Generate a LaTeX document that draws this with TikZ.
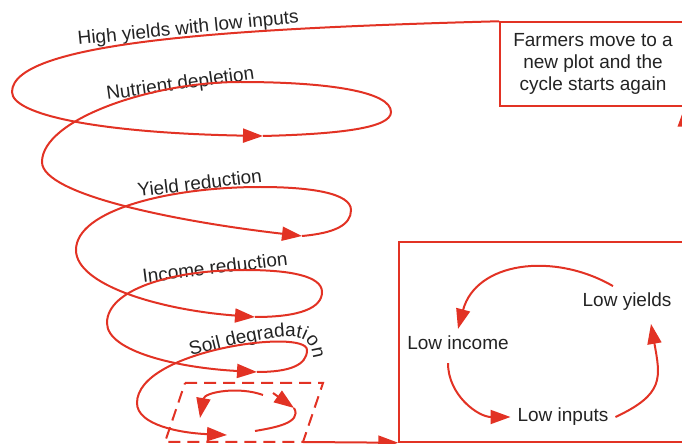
\documentclass[tikz,border=0pt]{standalone}
\usepackage{fontspec}
\setmainfont{Liberation Sans}
\usetikzlibrary{arrows.meta, decorations.text}
\definecolor{spiralred}{RGB}{226,50,36}
\definecolor{labelgray}{RGB}{35,35,35}
\newcommand{\labelsize}{\fontsize{9.5}{11}\selectfont}

\begin{document}
\begin{tikzpicture}
  [
    x=0.5pt, y=-0.5pt,
    Spiral/.style={draw=spiralred, line width=1pt},
    Tip/.style={-{Triangle[length=10pt, width=7pt]}},
    Frame/.style={draw=spiralred, line width=0.75pt},
    Label/.style={text=labelgray, font=\labelsize},
    Stage/.style={Label, anchor=base west, inner sep=0pt}
  ]
  \useasboundingbox (0,0) rectangle (682,444);
  \clip (0,0) rectangle (682,444);

  % Boxes
  \node[Frame, Label, align=center, minimum width=93pt, minimum height=42pt] (farmers) at (593,64) {Farmers move to a\\new plot and the\\cycle starts again};
  \node[Frame, minimum width=143.5pt, minimum height=100pt] (cyclebox) at (542.5,342) {};

  % Poverty cycle
  \node[Label] (yields) at (627,302) {Low yields};
  \node[Label] (income) at (458,343) {Low income};
  \node[Label] (inputs) at (563,417) {Low inputs};

  \draw[Spiral, Tip] ([xshift=-7pt]yields.north) to[out=150, in=75, looseness=1.1] (income.north);
  \draw[Spiral, Tip] ([xshift=-5pt, yshift=-3pt]income.south) to[out=-90, in=180] (inputs.west);
  \draw[Spiral, Tip] (inputs.east) to[out=25, in=-80, looseness=1.4] ([xshift=12pt, yshift=-3pt]yields.south);

  % Stages
  \node[Stage, rotate=5.7] (highyield) at (78,45) {High yields with low inputs};
  \node[Stage, rotate=8] (nutrient) at (107,100) {Nutrient depletion};
  \node[Stage, rotate=6.8] (yieldred) at (138,197) {Yield reduction};
  \node[Stage, rotate=7] (incomered) at (143,283) {Income reduction};
  \path[decorate, decoration={text along path, text color=labelgray, text={|\labelsize|Soil degradation}}]
    (191,356) .. controls (240,343) and (288,332) .. (303,339) .. controls (313,344) and (316,360) .. (311,382);

  % Spiral
  \draw[Spiral, Tip] (farmers.north west) .. controls (250,28) and (12,40) .. (12,92)
    .. controls (12,115) and (100,133) .. (263,136);
  \draw[Spiral, Tip] (263,136) .. controls (340,134) and (391,128) .. (391,112)
    .. controls (391,92) and (330,82) .. (240,82)
    .. controls (150,82) and (42,120) .. (42,162)
    .. controls (42,195) and (180,222) .. (302,236);
  \draw[Spiral, Tip] (302,236) .. controls (335,233) and (351,225) .. (351,210)
    .. controls (351,193) and (310,187) .. (260,187)
    .. controls (170,187) and (76,210) .. (76,250)
    .. controls (76,285) and (160,310) .. (255,317);
  \draw[Spiral, Tip] (255,317) .. controls (300,317) and (322,308) .. (322,292)
    .. controls (322,276) and (290,270) .. (245,270)
    .. controls (170,270) and (107,290) .. (107,323)
    .. controls (107,352) and (180,368) .. (257,372);
  \draw[Spiral, Tip] (257,372) .. controls (290,372) and (307,365) .. (307,350)
    .. controls (307,328) and (137,350) .. (137,403)
    .. controls (137,425) and (180,433) .. (227,435);

  % Trap
  \coordinate (ptl) at (185,383);
  \coordinate (ptr) at (323,383);
  \coordinate (pbr) at (303,442);
  \coordinate (pbl) at (165,442);
  \draw[Spiral, dash pattern=on 6pt off 3.5pt] (ptl) -- (ptr) -- (pbr) -- (pbl) -- cycle;
  \draw[Spiral, Tip] (263,395) to[out=160, in=80] (200,418);
  \draw[Spiral, Tip] (273,393) -- (294,408);
  \draw[Spiral] (294,408) to[out=-60, in=10] (255,431);

  % Lines
  \draw[Spiral, Tip] (pbr) -- (cyclebox.south west);
  \draw[Spiral, Tip] ([xshift=-1pt]cyclebox.north east) -- ([xshift=-1pt]farmers.south east);

\end{tikzpicture}
\end{document}
